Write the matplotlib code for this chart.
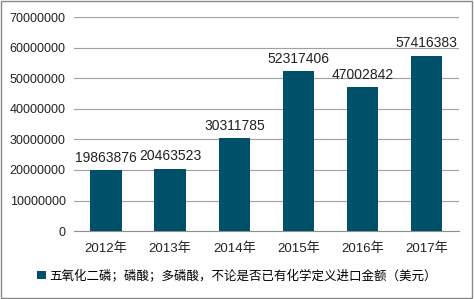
import matplotlib
matplotlib.use("Agg")
import matplotlib.pyplot as plt
from matplotlib.patches import Rectangle

plt.rcParams['font.family'] = ['Liberation Sans', 'Noto Sans CJK SC', 'DejaVu Sans']

categories = ["2012年", "2013年", "2014年", "2015年", "2016年", "2017年"]
values = [19863876, 20463523, 30311785, 52317406, 47002842, 57416383]
yticks = [0, 10000000, 20000000, 30000000, 40000000, 50000000, 60000000, 70000000]
legend_label = "五氧化二磷；磷酸；多磷酸，不论是否已有化学定义进口金额（美元）"

color = "#00506A"

fig = plt.figure(figsize=(4.74, 2.99), dpi=100)
ax = fig.add_axes([0.156, 0.227, 0.812, 0.716])

x = list(range(len(categories)))
bars = ax.bar(x, values, width=0.49, color=color, label=legend_label, zorder=3)
for xi, v in zip(x, values):
    ax.text(xi, v + 1700000, str(v), ha='center', va='bottom', fontsize=10, color='#222222', zorder=4)

ax.set_xlim(-0.5, len(categories) - 0.5)
ax.set_ylim(0, 70000000)
ax.set_yticks(yticks)
ax.set_yticklabels([str(t) for t in yticks], fontsize=9, color='#222222')
ax.set_xticks(x)
ax.set_xticklabels(categories, fontsize=9.5, color='#222222')
ax.yaxis.grid(True, color='#a0a0a0', linewidth=0.8, zorder=0)
for s in ['top', 'right', 'left']:
    ax.spines[s].set_visible(False)
ax.spines['bottom'].set_color('#909090')
ax.tick_params(axis='both', length=0, pad=6)
ax.tick_params(axis='x', pad=8)

leg = fig.legend(handles=[bars], labels=[legend_label], loc='center', bbox_to_anchor=(0.5, 0.077),
                 frameon=False, fontsize=9, handlelength=0.7, handleheight=0.7, handletextpad=0.3)

fig.patches.append(Rectangle((0.002, 0.003), 0.994, 0.993, transform=fig.transFigure,
                             fill=False, edgecolor='#888888', linewidth=1))

fig.savefig("out.png", dpi=100)
